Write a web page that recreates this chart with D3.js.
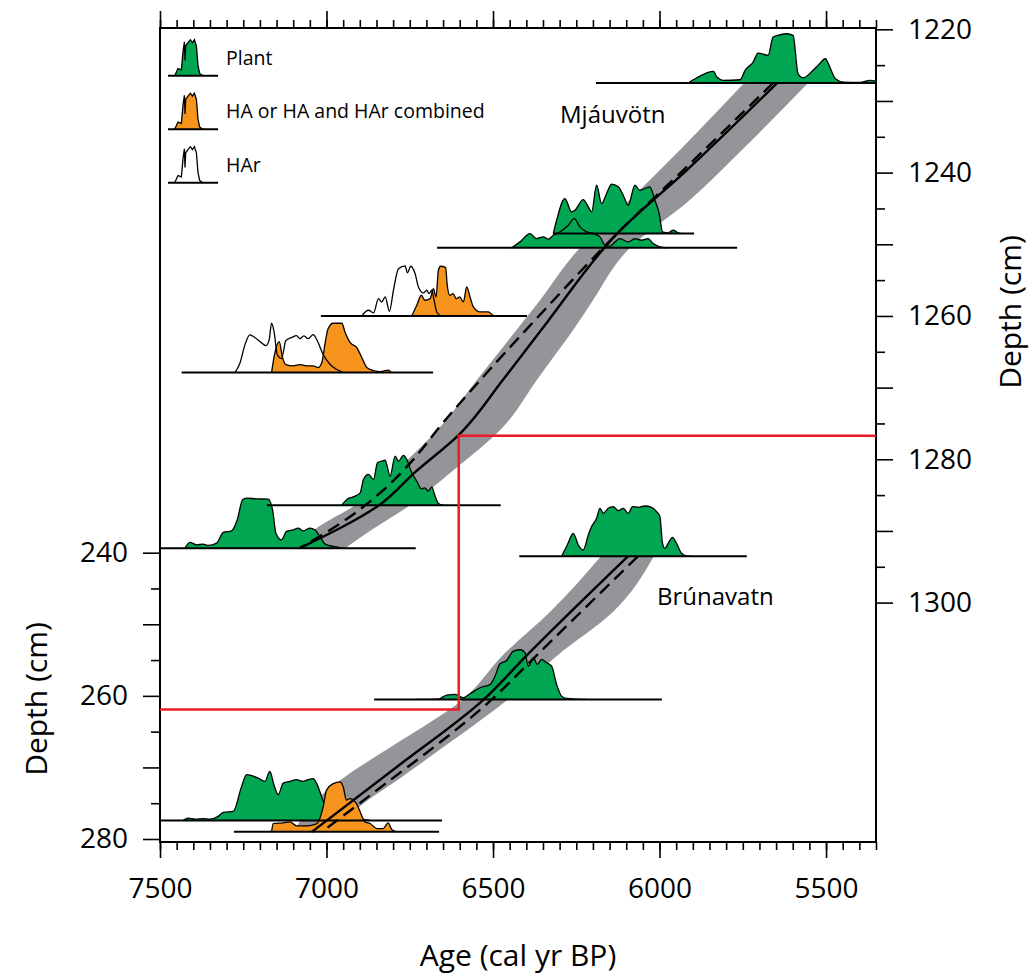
<!DOCTYPE html>
<html>
<head>
<meta charset="utf-8">
<script src="https://cdn.jsdelivr.net/npm/d3@7"></script>
<style>
  body { margin: 0; background: #fff; }
  svg { display: block; }
  text { font-family: "Open Sans", "Noto Sans", sans-serif; fill: #000; }
</style>
</head>
<body>
<svg id="chart" width="1035" height="977"></svg>
<script>
// ---------- axis ticks ----------
const ageTicks = [7500, 7000, 6500, 6000, 5500];
const brunDepthTicks = [240, 260, 280];
const mjauDepthTicks = [1220, 1240, 1260, 1280, 1300];

// ---------- age-depth models: [age, depth] ----------
const mjauSolid = [[5647,1227.5],[5917,1239.6],[6125,1248.4],[6338,1260.9],[6470,1268.9],[6605,1276.7],[6734,1281.8],[6839,1286.3],[7080,1292.4]];
const mjauDashed = [[5659,1227.5],[5896,1238.2],[6125,1248.4],[6380,1260.9],[6518,1267.9],[6650,1274.9],[6758,1281.0],[6839,1284.7],[6935,1288.2],[7080,1292.4]];
// 95% range: [depth, older age, younger age]
const mjauRange = [[1227.5,5746,5554],[1236.8,5938,5752],[1243.8,6089,5908],[1250.8,6245,6095],[1257.8,6359,6200],[1261.0,6413,6245],[1268.9,6548,6368],[1275.5,6659,6470],[1281.9,6800,6629],[1286.4,6914,6749],[1289.8,7035,6863],[1292.4,7086,6944]];

const brunSolid = [[6095,240.5],[6398,254.3],[6530,260.6],[6791,270.0],[7044,279.0]];
const brunDashed = [[6065,240.5],[6368,254.3],[6506,260.6],[6869,273.9],[7014,279.0]];
const brunRange = [[240.5,6176,6017],[248.3,6329,6140],[254.3,6470,6305],[260.6,6593,6458],[266.5,6785,6629],[271.5,6950,6779],[275.4,7050,6899],[279.0,7095,6974]];

// tie point between the two records
const tieAge = 6603, tieMjauDepth = 1276.7, tieBrunDepth = 261.9;

// ---------- calibrated age distributions: [age, probability] ----------
const mjauP1 = [[5914,0],[5888,1.06],[5838,2.34],[5828,1.2],[5809,0.54],[5758,0.66],[5743,2.54],[5719,4.2],[5704,6.0],[5674,5.54],[5659,9.2],[5638,9.66],[5618,9.86],[5599,9.54],[5584,1.86],[5569,1.06],[5539,2.54],[5524,3.54],[5502,4.86],[5493,3.86],[5472,0.86],[5448,0.2],[5398,0.14],[5368,0.54],[5350,0.4]];
const mjauP2 = [[6319,0],[6309,2.66],[6284,7.0],[6264,4.34],[6254,4.66],[6229,6.8],[6214,5.34],[6204,4.34],[6189,9.66],[6174,6.0],[6159,8.0],[6144,9.86],[6124,9.34],[6109,7.66],[6094,5.66],[6074,9.66],[6059,8.66],[6029,9.34],[6014,6.66],[6001,4.0],[5991,0.34],[5974,0.14],[5959,0.66],[5944,0.14],[5929,0]];
const mjauP3 = [[6444,0],[6419,1.2],[6389,2.86],[6369,1.86],[6349,2.2],[6334,1.74],[6319,2.54],[6299,3.2],[6274,4.54],[6256,5.86],[6239,4.2],[6219,3.2],[6199,2.86],[6179,2.2],[6164,0.54],[6149,0.34],[6134,1.2],[6119,1.86],[6094,1.2],[6074,1.86],[6054,1.54],[6034,1.86],[6019,0.86],[5999,0.2],[5978,0]];
const mjauHAr4 = [[6894,0],[6874,1.14],[6859,0.6],[6844,3.46],[6834,2.8],[6824,3.8],[6811,0.94],[6799,5.14],[6784,9.46],[6764,10.0],[6757,8.6],[6747,9.94],[6734,8.46],[6724,5.8],[6709,4.6],[6699,5.14],[6692,4.46],[6684,5.14],[6677,3.14],[6669,0.8],[6659,0.14],[6649,0]];
const mjauHA4 = [[6744,0],[6729,2.14],[6715,4.14],[6705,3.14],[6689,3.46],[6679,5.46],[6671,3.8],[6664,9.14],[6657,9.94],[6642,9.66],[6638,6.46],[6630,4.14],[6620,4.46],[6610,3.46],[6600,3.8],[6589,2.8],[6579,5.8],[6569,3.8],[6559,1.8],[6539,0.8],[6514,0.8],[6500,0.14],[6489,0]];
const mjauHAr5 = [[7275,0],[7260,1.86],[7245,5.54],[7230,7.54],[7215,7.0],[7200,6.2],[7182,5.4],[7172,6.6],[7165,9.86],[7157,8.0],[7148,3.6],[7135,2.8],[7122,6.4],[7105,7.0],[7090,7.4],[7080,6.8],[7068,7.34],[7055,6.8],[7040,7.6],[7028,6.4],[7010,3.6],[6989,1.6],[6969,0.6],[6950,0]];
const mjauHA5 = [[7165,0],[7155,4.0],[7142,6.2],[7132,3.0],[7122,1.6],[7100,1.34],[7080,1.6],[7060,1.34],[7040,1.34],[7025,1.0],[7014,2.0],[7004,6.0],[6995,8.8],[6980,9.86],[6954,9.86],[6944,8.0],[6929,6.0],[6909,5.0],[6894,3.0],[6879,1.0],[6859,0.4],[6839,0.2],[6814,0.5],[6805,0]];
const mjauP6 = [[6954,0],[6939,1.14],[6920,1.66],[6899,2.46],[6889,5.14],[6874,6.14],[6859,5.14],[6847,8.46],[6834,8.8],[6824,9.0],[6818,7.8],[6809,5.8],[6794,9.8],[6784,8.8],[6769,9.94],[6759,9.14],[6744,6.46],[6729,4.8],[6715,3.26],[6705,3.46],[6694,2.8],[6684,3.66],[6674,1.8],[6664,0.34],[6649,0]];
const mjauP7 = [[7425,0],[7410,1.14],[7390,0.66],[7370,0.8],[7355,0.54],[7330,1.0],[7310,3.14],[7285,3.46],[7268,5.66],[7252,9.66],[7240,10.0],[7210,9.86],[7175,9.8],[7162,7.66],[7152,3.0],[7135,1.66],[7120,3.34],[7100,3.66],[7085,4.0],[7070,3.46],[7050,4.0],[7035,3.66],[7020,2.34],[7005,0.86],[6980,0.34],[6950,0]];

const brunP1 = [[6294,0],[6277,2.26],[6259,4.6],[6244,2.26],[6229,1.26],[6214,4.26],[6204,5.94],[6189,7.6],[6179,9.6],[6169,8.6],[6154,9.6],[6139,9.94],[6124,9.14],[6109,9.6],[6094,8.6],[6081,9.94],[6064,9.8],[6044,10.06],[6024,9.8],[6009,8.94],[5999,7.94],[5991,2.6],[5984,1.6],[5974,2.6],[5961,3.8],[5949,2.6],[5934,0.6],[5919,0.06],[5899,0]];
const brunP2 = [[6729,0],[6665,0.05],[6639,0.86],[6614,1.0],[6589,0.34],[6569,1.14],[6539,2.34],[6509,3.0],[6494,4.66],[6479,7.14],[6459,7.8],[6439,9.66],[6417,9.94],[6404,9.34],[6394,6.66],[6379,8.34],[6367,7.0],[6354,8.0],[6339,7.34],[6324,6.66],[6309,3.0],[6294,0.66],[6279,0.2],[6249,0.06],[6219,0]];
const brunP3 = [[7430,0],[7415,0.46],[7395,0.26],[7370,0.34],[7350,0.26],[7325,0.8],[7310,1.6],[7280,1.8],[7255,6.8],[7240,9.14],[7225,8.94],[7205,8.46],[7185,7.8],[7170,9.8],[7158,7.14],[7145,5.14],[7130,7.46],[7110,7.8],[7090,8.14],[7070,7.8],[7055,8.14],[7040,8.34],[7030,7.46],[7015,4.8],[7000,2.4],[6970,1.6],[6930,1.0],[6890,0.2],[6869,0]];
const brunHA4 = [[7165,0],[7160,1.66],[7130,1.8],[7110,2.0],[7090,1.2],[7060,1.2],[7030,1.6],[7010,5.0],[7000,8.34],[6980,9.66],[6959,10.0],[6950,9.0],[6940,6.34],[6930,6.66],[6910,5.66],[6895,3.34],[6885,2.0],[6869,1.66],[6849,0.66],[6830,0.66],[6815,1.8],[6804,0.46],[6790,0]];

// samples: depth, baseline age span, and the distributions plotted on it
const mjauSamples = [
  { depth: 1227.5, span: [6191, 5350], plant: mjauP1 },
  { depth: 1248.5, span: [6320, 5896], plant: mjauP2 },
  { depth: 1250.5, span: [6668, 5767], plant: mjauP3 },
  { depth: 1260.0, span: [7017, 6398], har: mjauHAr4, ha: mjauHA4 },
  { depth: 1267.9, span: [7435, 6680], har: mjauHAr5, ha: mjauHA5 },
  { depth: 1286.4, span: [7179, 6477], plant: mjauP6 },
  { depth: 1292.4, span: [7500, 6732], plant: mjauP7 }
];
const brunSamples = [
  { depth: 240.5, span: [6421, 5738], plant: brunP1 },
  { depth: 260.5, span: [6857, 5993], plant: brunP2 },
  { depth: 277.4, span: [7500, 6653], plant: brunP3 },
  { depth: 279.0, span: [7278, 6662], ha: brunHA4 }
];

// legend
const legendItems = ["Plant", "HA or HA and HAr combined", "HAr"];
const legendGlyph = [[0,0],[0.134,0],[0.2,0.2],[0.268,0.16],[0.3,0.67],[0.328,0.94],[0.34,0.42],[0.354,0.83],[0.4,0.92],[0.448,1.0],[0.488,0.92],[0.528,1.0],[0.568,0.83],[0.6,0.28],[0.634,0.06],[0.7,0],[1,0]];

// ---------- styling ----------
const GREEN = "#00a651", ORANGE = "#f7941d", GREY = "#939598", RED = "#ed1c24";
const fill = { plant: GREEN, ha: ORANGE, har: "#ffffff" };

// ---------- layout & scales ----------
const frame = { left: 160, right: 876, top: 28, bottom: 842 };
const svg = d3.select("#chart");

const x = d3.scaleLinear().domain([7500, 5350]).range([frame.left, frame.right]);
const yM = d3.scaleLinear().domain([1220, 1300]).range([29.3, 602.6]);
const yB = d3.scaleLinear().domain([240, 280]).range([552.7, 839]);
const prob = d3.scaleLinear().domain([0, 10]).range([0, 50]);

// ---------- axes ----------
function styleAxis(g) {
  g.select(".domain").remove();
  g.selectAll(".tick line").attr("stroke", "#000").attr("stroke-width", 1.6);
  g.selectAll(".tick text").attr("font-size", 28).attr("font-family", '"Open Sans", sans-serif').attr("fill", "#000");
}
const minorAges = d3.range(7500, 5349, -50);

svg.append("g").attr("transform", `translate(0,${frame.bottom})`)
  .call(d3.axisBottom(x).tickValues(minorAges).tickSize(8).tickFormat("")).call(styleAxis);
svg.append("g").attr("transform", `translate(0,${frame.bottom})`)
  .call(d3.axisBottom(x).tickValues(ageTicks).tickSize(16).tickPadding(20).tickFormat(d3.format("d"))).call(styleAxis);

svg.append("g").attr("transform", `translate(0,${frame.top})`)
  .call(d3.axisTop(x).tickValues(minorAges).tickSize(8).tickFormat("")).call(styleAxis);
svg.append("g").attr("transform", `translate(0,${frame.top})`)
  .call(d3.axisTop(x).tickValues(ageTicks).tickSize(17).tickFormat("")).call(styleAxis);

svg.append("g").attr("transform", `translate(${frame.right},0)`)
  .call(d3.axisRight(yM).tickValues(d3.range(1225, 1300, 10)).tickSize(9).tickFormat("")).call(styleAxis);
svg.append("g").attr("transform", `translate(${frame.right},0)`)
  .call(d3.axisRight(yM).tickValues(d3.range(1220, 1301, 10)).tickSize(17).tickPadding(15)
    .tickFormat(d => mjauDepthTicks.includes(d) ? d : "")).call(styleAxis);

svg.append("g").attr("transform", `translate(${frame.left},0)`)
  .call(d3.axisLeft(yB).tickValues(d3.range(245, 280, 10)).tickSize(9).tickFormat("")).call(styleAxis);
svg.append("g").attr("transform", `translate(${frame.left},0)`)
  .call(d3.axisLeft(yB).tickValues(d3.range(240, 281, 10)).tickSize(17).tickPadding(15)
    .tickFormat(d => brunDepthTicks.includes(d) ? d : "")).call(styleAxis);

svg.append("rect")
  .attr("x", frame.left).attr("y", frame.top)
  .attr("width", frame.right - frame.left).attr("height", frame.bottom - frame.top)
  .attr("fill", "none").attr("stroke", "#000").attr("stroke-width", 2);

// ---------- model uncertainty bands ----------
function rangeArea(yScale) {
  return d3.area().curve(d3.curveMonotoneY)
    .y(d => yScale(d[0])).x0(d => x(d[1])).x1(d => x(d[2]));
}
const gBand = svg.append("g");
gBand.append("path").attr("d", rangeArea(yM)(mjauRange)).attr("fill", GREY);
gBand.append("path").attr("d", rangeArea(yB)(brunRange)).attr("fill", GREY);

// ---------- age distributions ----------
const gPdf = svg.append("g");
function pdfPaths(pdf, baseY) {
  const area = d3.area().curve(d3.curveMonotoneX)
    .x(d => x(d[0])).y0(baseY).y1(d => baseY - prob(d[1]));
  const top = d3.line().curve(d3.curveMonotoneX)
    .x(d => x(d[0])).y(d => baseY - prob(d[1]));
  return { area: area(pdf), top: top(pdf) };
}
function drawSample(s, yScale) {
  const baseY = yScale(s.depth);
  if (s.har) {
    const p = pdfPaths(s.har, baseY);
    gPdf.append("path").attr("d", p.area).attr("fill", fill.har);
  }
  ["plant", "ha"].forEach(k => {
    if (!s[k]) return;
    const p = pdfPaths(s[k], baseY);
    gPdf.append("path").attr("d", p.area).attr("fill", fill[k]);
    gPdf.append("path").attr("d", p.top).attr("fill", "none").attr("stroke", "#000").attr("stroke-width", 1.3);
  });
  if (s.har) {
    const p = pdfPaths(s.har, baseY);
    gPdf.append("path").attr("d", p.top).attr("fill", "none").attr("stroke", "#000").attr("stroke-width", 1.3);
  }
}
mjauSamples.forEach(s => drawSample(s, yM));
brunSamples.forEach(s => drawSample(s, yB));

// baselines of each dated level
const gBase = svg.append("g");
function drawBaselines(samples, yScale) {
  gBase.selectAll(null).data(samples).join("line")
    .attr("x1", d => x(d.span[0])).attr("x2", d => x(d.span[1]))
    .attr("y1", d => yScale(d.depth)).attr("y2", d => yScale(d.depth))
    .attr("stroke", "#000").attr("stroke-width", 2);
}
drawBaselines(mjauSamples, yM);
drawBaselines(brunSamples, yB);

// ---------- model curves ----------
function modelLine(yScale) {
  return d3.line().curve(d3.curveMonotoneY).x(d => x(d[0])).y(d => yScale(d[1]));
}
const gModel = svg.append("g").attr("fill", "none").attr("stroke", "#000").attr("stroke-width", 2.4);
gModel.append("path").attr("d", modelLine(yM)(mjauSolid));
gModel.append("path").attr("d", modelLine(yM)(mjauDashed)).attr("stroke-dasharray", "13,7");
gModel.append("path").attr("d", modelLine(yB)(brunSolid));
gModel.append("path").attr("d", modelLine(yB)(brunDashed)).attr("stroke-dasharray", "13,7");

// ---------- tie line between the records ----------
svg.append("path")
  .attr("d", d3.line()([
    [frame.right, yM(tieMjauDepth)],
    [x(tieAge), yM(tieMjauDepth)],
    [x(tieAge), yB(tieBrunDepth)],
    [frame.left, yB(tieBrunDepth)]
  ]))
  .attr("fill", "none").attr("stroke", RED).attr("stroke-width", 2.5);

// ---------- legend ----------
const gx = d3.scaleLinear().domain([0, 1]).range([168, 218]);
const gh = d3.scaleLinear().domain([0, 1]).range([0, 36]);
const legendFill = [GREEN, ORANGE, "#ffffff"];
const gLeg = svg.append("g");
legendItems.forEach((label, i) => {
  const base = 75.7 + i * 53.5;
  gLeg.append("path")
    .attr("d", d3.area().x(d => gx(d[0])).y0(base).y1(d => base - gh(d[1]))(legendGlyph))
    .attr("fill", legendFill[i]);
  gLeg.append("path")
    .attr("d", d3.line().x(d => gx(d[0])).y(d => base - gh(d[1]))(legendGlyph.slice(1, -1)))
    .attr("fill", "none").attr("stroke", "#000").attr("stroke-width", 1.3);
  gLeg.append("line").attr("x1", gx(0)).attr("x2", gx(1)).attr("y1", base).attr("y2", base)
    .attr("stroke", "#000").attr("stroke-width", 2);
  gLeg.append("text").attr("x", 226).attr("y", base - 11).attr("font-size", 19.5).text(label);
});

// ---------- lake names ----------
svg.append("text").attr("x", 560).attr("y", 123).attr("font-size", 24).text("Mjáuvötn");
svg.append("text").attr("x", 657).attr("y", 605).attr("font-size", 24).text("Brúnavatn");

// ---------- axis titles ----------
svg.append("text").attr("x", 518).attr("y", 966).attr("font-size", 30)
  .attr("text-anchor", "middle").text("Age (cal yr BP)");
svg.append("text").attr("transform", "translate(47,699) rotate(-90)").attr("font-size", 30)
  .attr("text-anchor", "middle").text("Depth (cm)");
svg.append("text").attr("transform", "translate(1021,312) rotate(-90)").attr("font-size", 30)
  .attr("text-anchor", "middle").text("Depth (cm)");
</script>
</body>
</html>
